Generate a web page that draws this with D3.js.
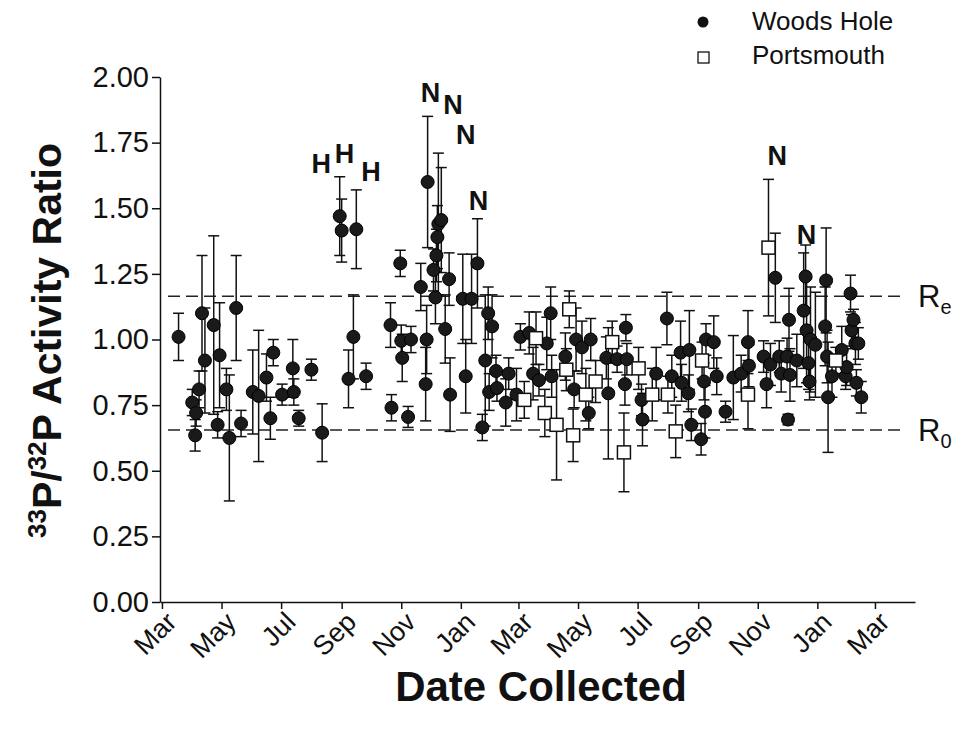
<!DOCTYPE html>
<html>
<head>
<meta charset="utf-8">
<script src="https://cdn.jsdelivr.net/npm/d3@7"></script>
<style>
  body { margin: 0; background: #fff; }
  svg { font-family: "Liberation Sans", Arial, sans-serif; }
</style>
</head>
<body>
<div id="chart"></div>
<script>
// Woods Hole samples (filled circles)
const woodsDates = ["1996-03-18","1996-04-01","1996-04-05","1996-04-04","1996-04-08","1996-04-11","1996-04-14","1996-04-23","1996-04-27","1996-04-29",
  "1996-05-06","1996-05-09","1996-05-16","1996-05-21","1996-06-02","1996-06-08","1996-06-16","1996-06-20","1996-06-23","1996-07-02",
  "1996-07-13","1996-07-14","1996-07-19","1996-08-01","1996-08-12","1996-08-30","1996-09-01","1996-09-16","1996-09-08","1996-09-13",
  "1996-09-26","1996-10-21","1996-10-22","1996-10-31","1996-11-01","1996-11-02","1996-11-08","1996-11-11","1996-11-21","1996-11-26",
  "1996-11-27","1996-11-28","1996-12-04","1996-12-06","1996-12-07","1996-12-08","1996-12-09","1996-12-12","1996-12-16","1996-12-20",
  "1996-12-21","1997-01-03","1997-01-06","1997-01-12","1997-01-18","1997-01-23","1997-01-26","1997-01-29","1997-01-30","1997-02-02",
  "1997-02-06","1997-02-07","1997-02-16","1997-02-19","1997-02-27","1997-03-03","1997-03-12","1997-03-16","1997-03-22","1997-03-30",
  "1997-04-03","1997-04-04","1997-04-18","1997-04-27","1997-04-29","1997-05-05","1997-05-12","1997-05-14","1997-05-30","1997-06-01",
  "1997-06-10","1997-06-18","1997-06-19","1997-06-20","1997-07-05","1997-07-06","1997-07-20","1997-07-31","1997-08-05","1997-08-14",
  "1997-08-15","1997-08-22","1997-08-23","1997-08-25","1997-09-04","1997-09-07","1997-09-08","1997-09-09","1997-09-17","1997-09-20",
  "1997-09-29","1997-10-07","1997-10-15","1997-10-22","1997-10-23","1997-11-07","1997-11-10","1997-11-14","1997-11-19","1997-11-23",
  "1997-11-25","1997-12-01","1997-12-02","1997-12-03","1997-12-04","1997-12-11","1997-12-18","1997-12-20","1997-12-21","1997-12-23",
  "1997-12-24","1997-12-25","1997-12-30","1998-01-10","1998-01-09","1998-01-11","1998-01-12","1998-01-16","1998-01-26","1998-01-30",
  "1998-01-31","1998-02-04","1998-02-05","1998-02-07","1998-02-09","1998-02-10","1998-02-12","1998-02-15"];
const woodsRatio = [1.01,0.76,0.72,0.635,0.81,1.10,0.92,1.055,0.675,0.94,
  0.81,0.625,1.12,0.68,0.80,0.785,0.855,0.70,0.95,0.79,
  0.89,0.80,0.70,0.885,0.645,1.47,1.415,1.42,0.85,1.01,
  0.86,1.055,0.74,1.29,0.995,0.93,0.705,1.00,1.20,0.83,
  1.00,1.60,1.265,1.16,1.32,1.39,1.44,1.455,1.04,1.23,
  0.79,1.155,0.86,1.155,1.29,0.665,0.92,1.10,0.80,1.05,
  0.88,0.815,0.76,0.87,0.79,1.01,1.025,0.87,0.845,0.985,
  1.10,0.86,0.935,0.81,1.00,0.97,0.72,1.00,0.93,0.795,
  0.925,0.83,1.045,0.925,0.77,0.695,0.87,1.08,0.86,0.95,
  0.835,0.795,0.96,0.675,0.62,0.84,0.725,1.00,0.99,0.86,
  0.725,0.855,0.87,0.99,0.90,0.935,0.83,0.905,1.235,0.935,
  0.87,0.935,0.695,1.075,0.865,0.92,1.11,1.24,1.035,0.91,
  0.84,1.00,0.98,1.225,1.05,0.935,0.78,0.86,0.96,0.86,
  0.895,1.175,1.035,1.075,0.985,0.835,0.985,0.78];
const woodsErr = [0.09,0.05,0.05,0.06,0.07,0.22,0.20,0.34,0.05,0.20,
  0.08,0.24,0.20,0.05,0.16,0.25,0.09,0.08,0.05,0.04,
  0.11,0.05,0.03,0.04,0.11,0.15,0.12,0.15,0.11,0.16,
  0.05,0.085,0.05,0.05,0.06,0.09,0.04,0.05,0.09,0.14,
  0.13,0.25,0.08,0.10,0.10,0.12,0.27,0.20,0.13,0.10,
  0.14,0.17,0.14,0.17,0.17,0.05,0.25,0.10,0.07,0.12,
  0.06,0.05,0.09,0.06,0.10,0.05,0.08,0.10,0.06,0.10,
  0.10,0.08,0.09,0.07,0.12,0.10,0.06,0.08,0.08,0.25,
  0.05,0.08,0.05,0.06,0.06,0.10,0.10,0.10,0.08,0.12,
  0.07,0.07,0.15,0.06,0.06,0.07,0.10,0.06,0.10,0.07,
  0.04,0.16,0.07,0.12,0.08,0.06,0.09,0.08,0.17,0.06,
  0.07,0.07,0.02,0.12,0.10,0.10,0.22,0.12,0.20,0.10,
  0.07,0.20,0.20,0.20,0.15,0.10,0.21,0.08,0.09,0.05,
  0.07,0.07,0.06,0.04,0.08,0.05,0.06,0.06];

// Portsmouth samples (open squares)
const portsDates = ["1997-03-07","1997-03-19","1997-03-28","1997-04-09","1997-04-19","1997-04-22","1997-04-26","1997-05-09","1997-05-19","1997-06-05",
  "1997-06-17","1997-07-02","1997-07-16","1997-08-01","1997-08-09","1997-09-05","1997-10-22","1997-11-12","1998-01-20"];
const portsRatio = [0.77,1.005,0.72,0.675,0.885,1.115,0.635,0.79,0.84,0.99,
  0.57,0.89,0.79,0.79,0.65,0.92,0.79,1.35,0.92];
const portsErr = [0.07,0.10,0.09,0.21,0.08,0.07,0.10,0.10,0.08,0.08,
  0.15,0.08,0.10,0.07,0.10,0.07,0.13,0.26,0.05];

// event letters above the data
const noteText = ["H","H","H","N","N","N","N","N","N"];
const noteDates = ["1996-08-11","1996-09-04","1996-10-01","1996-12-01","1996-12-24","1997-01-06","1997-01-19","1997-11-21","1997-12-21"];
const noteValues = [1.67,1.71,1.64,1.94,1.895,1.78,1.53,1.70,1.40];

const yTicks = [0, 0.25, 0.5, 0.75, 1.0, 1.25, 1.5, 1.75, 2.0];
const refLines = [{name: "e", value: 1.165}, {name: "0", value: 0.655}];

const parse = d3.timeParse("%Y-%m-%d");
const woods = woodsDates.map((d, i) => ({date: parse(d), v: woodsRatio[i], e: woodsErr[i]}));
const ports = portsDates.map((d, i) => ({date: parse(d), v: portsRatio[i], e: portsErr[i]}));

const width = 966, height = 730;
const svg = d3.select("#chart").append("svg")
    .attr("width", width)
    .attr("height", height);

const x = d3.scaleTime()
    .domain([parse("1996-02-28"), parse("1998-04-11")])
    .range([160, 915]);
const y = d3.scaleLinear().domain([0, 2]).range([602, 77]);

// axes
const xAxis = svg.append("g")
    .attr("transform", `translate(0,${y(0)})`)
    .call(d3.axisBottom(x).ticks(d3.timeMonth.every(2)).tickFormat(d3.timeFormat("%b")).tickSize(7).tickSizeOuter(0));
xAxis.selectAll("text")
    .attr("font-size", 27)
    .attr("text-anchor", "end")
    .attr("dy", "0.5em")
    .attr("transform", "translate(-1,5) rotate(-45)");

const yAxis = svg.append("g")
    .attr("transform", `translate(${x.range()[0]},0)`)
    .call(d3.axisLeft(y).tickValues(yTicks).tickFormat(d3.format(".2f")).tickSize(8).tickSizeOuter(0));
yAxis.selectAll("text").attr("font-size", 29).attr("x", -11);
svg.selectAll(".domain, .tick line").attr("stroke", "#111").attr("stroke-width", 1.5);
svg.selectAll(".tick text").attr("fill", "#111").attr("font-family", "Liberation Sans, Arial, sans-serif");

// reference lines
refLines.forEach(r => {
  svg.append("line")
      .attr("x1", 168).attr("x2", 903)
      .attr("y1", y(r.value)).attr("y2", y(r.value))
      .attr("stroke", "#222").attr("stroke-width", 1.5)
      .attr("stroke-dasharray", "12,6");
  const t = svg.append("text")
      .attr("x", 918).attr("y", y(r.value) + 11)
      .attr("font-size", 31).attr("fill", "#111")
      .text("R");
  t.append("tspan").attr("font-size", 20).attr("dy", 7).text(r.name);
});

// error bars + markers
function errorBars(data) {
  const g = svg.append("g").attr("stroke", "#111").attr("stroke-width", 1.5).attr("fill", "none");
  data.forEach(d => {
    const cx = x(d.date);
    g.append("line").attr("x1", cx).attr("x2", cx).attr("y1", y(d.v - d.e)).attr("y2", y(d.v + d.e));
    [d.v - d.e, d.v + d.e].forEach(b =>
      g.append("line").attr("x1", cx - 5.5).attr("x2", cx + 5.5).attr("y1", y(b)).attr("y2", y(b)));
  });
}
errorBars(woods);
errorBars(ports);

svg.append("g").selectAll("circle")
  .data(woods)
  .join("circle")
    .attr("cx", d => x(d.date))
    .attr("cy", d => y(d.v))
    .attr("r", 6.5)
    .attr("fill", "#1a1a1a")
    .attr("stroke", "#000").attr("stroke-width", 1);

svg.append("g").selectAll("rect")
  .data(ports)
  .join("rect")
    .attr("x", d => x(d.date) - 6.5)
    .attr("y", d => y(d.v) - 6.5)
    .attr("width", 13).attr("height", 13)
    .attr("fill", "#fff")
    .attr("stroke", "#111").attr("stroke-width", 1.5);

// letters
svg.append("g").selectAll("text")
  .data(noteText)
  .join("text")
    .attr("x", (d, i) => x(parse(noteDates[i])))
    .attr("y", (d, i) => y(noteValues[i]))
    .attr("dy", "0.36em")
    .attr("text-anchor", "middle")
    .attr("font-size", 27).attr("font-weight", "bold").attr("fill", "#111")
    .text(d => d);

// axis titles
svg.append("text")
    .attr("x", 541)
    .attr("y", 701)
    .attr("text-anchor", "middle")
    .attr("font-size", 42).attr("font-weight", "bold").attr("fill", "#111")
    .text("Date Collected");

const yt = svg.append("text")
    .attr("transform", `translate(61,${y(1) + 1}) rotate(-90)`)
    .attr("text-anchor", "middle")
    .attr("font-size", 41).attr("font-weight", "bold").attr("fill", "#111");
yt.append("tspan").attr("font-size", 26).attr("dy", -15).text("33");
yt.append("tspan").attr("dy", 15).text("P/");
yt.append("tspan").attr("font-size", 26).attr("dy", -15).text("32");
yt.append("tspan").attr("dy", 15).text("P Activity Ratio");

// legend
const legend = svg.append("g").attr("font-size", 26).attr("fill", "#111");
legend.append("circle").attr("cx", 703).attr("cy", 22).attr("r", 5.5).attr("fill", "#111");
legend.append("rect").attr("x", 698).attr("y", 52).attr("width", 11).attr("height", 11)
    .attr("fill", "#fff").attr("stroke", "#111").attr("stroke-width", 1.3);
legend.append("text").attr("x", 752).attr("y", 30).text("Woods Hole");
legend.append("text").attr("x", 752).attr("y", 64).text("Portsmouth");
</script>
</body>
</html>
